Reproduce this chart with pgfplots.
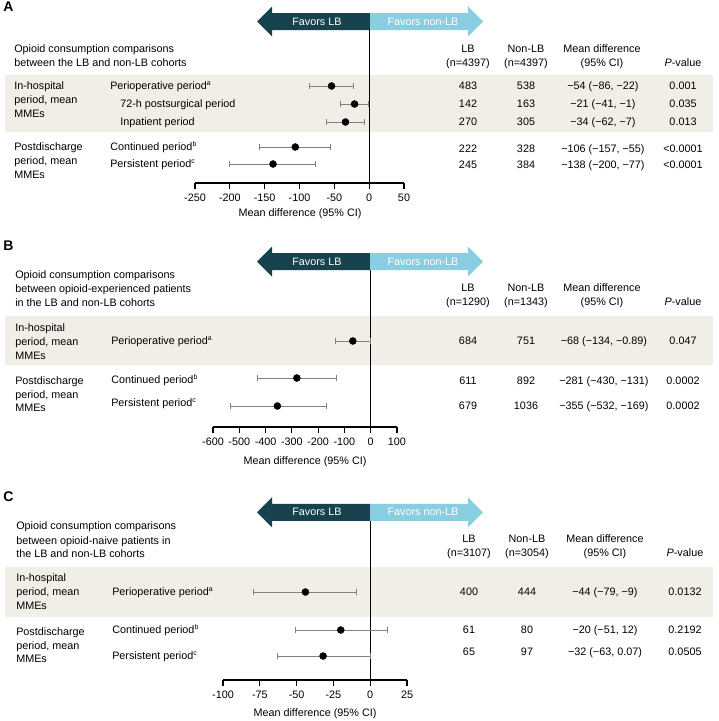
\documentclass[border=0pt]{standalone}
\usepackage{fontspec}
\setmainfont{Liberation Sans}
\usepackage{pgfplots}
\usepackage{pgfplotstable}
\pgfplotsset{compat=1.18}
\definecolor{darkteal}{RGB}{24,67,78}
\definecolor{lightblue}{RGB}{137,206,224}
\definecolor{band}{RGB}{240,238,230}
\definecolor{ebar}{RGB}{128,128,128}
\newcommand\mainsz{\fontsize{8.1pt}{10pt}\selectfont}
\newcommand\sups[1]{\raisebox{0.38em}{\fontsize{5.2pt}{6pt}\selectfont #1}}

\pgfplotstableread{
r m lo hi
86 -54 -86 -22
104 -21 -41 -1
122 -34 -62 -7
147 -106 -157 -55
164 -138 -200 -77
}\dataA
\pgfplotstableread{
r m lo hi
341 -68 -134 -0.89
378 -281 -430 -131
406 -355 -532 -169
}\dataB
\pgfplotstableread{
r m lo hi
592 -44 -79 -9
630 -20 -51 12
656 -32 -63 0.07
}\dataC

\pgfplotsset{forest/.style={
  scale only axis, clip=false,
  axis x line*=bottom, hide y axis,
  y dir=reverse,
  x axis line style={black, line width=0.8pt, -},
  tick align=outside, major tick length=4.5pt,
  xtick style={black, line width=0.8pt},
  minor tick num=0,
  xticklabel style={font=\mainsz, inner sep=0pt, yshift=-3.3pt},
}}
\pgfplotsset{fp/.style={only marks, mark=*, mark size=2.6pt, black,
  error bars/.cd, x dir=both, x explicit, error mark=|,
  error bar style={ebar, line width=0.7pt},
  error mark options={ebar, mark size=2.5pt, line width=0.7pt}}}

\begin{document}
\begin{tikzpicture}
\begin{scope}[x=0.75pt,y=-0.75pt,
  t/.style={font=\mainsz, inner sep=0pt, anchor=mid west},
  c/.style={font=\mainsz, inner sep=0pt, anchor=mid}]
\useasboundingbox (0,0) rectangle (718,721);
\fill[band] (5,75) rectangle (713,132);
\fill[band] (5,316) rectangle (713,365);
\fill[band] (5,567) rectangle (713,617);
\foreach \cy in {21.5, 261.7, 512.3} {
 \fill[darkteal] (257,\cy) -- (272,\cy-15) -- (272,\cy-8.5) -- (370,\cy-8.5) -- (370,\cy+8.5) -- (272,\cy+8.5) -- (272,\cy+15) -- cycle;
 \fill[lightblue] (370,\cy-8.5) -- (468,\cy-8.5) -- (468,\cy-15) -- (483,\cy) -- (468,\cy+15) -- (468,\cy+8.5) -- (370,\cy+8.5) -- cycle;
 \node[c, white] at (317,\cy) {Favors LB};
 \node[c, white] at (423,\cy) {Favors non-LB};
}
% panel letters
\node[inner sep=0pt, anchor=mid west, font=\fontsize{10.5pt}{12pt}\selectfont\bfseries] at (3,8) {A};
\node[inner sep=0pt, anchor=mid west, font=\fontsize{10.5pt}{12pt}\selectfont\bfseries] at (3,247) {B};
\node[inner sep=0pt, anchor=mid west, font=\fontsize{10.5pt}{12pt}\selectfont\bfseries] at (3,498) {C};
% ---------- Panel A text
\node[t] at (14,49) {Opioid consumption comparisons};
\node[t] at (14,63) {between the LB and non-LB cohorts};
\node[c] at (468,49) {LB}; \node[c] at (468,63) {(n=4397)};
\node[c] at (526,49) {Non-LB}; \node[c] at (526,63) {(n=4397)};
\node[c] at (602,49) {Mean difference}; \node[c] at (602,63) {(95\% CI)};
\node[c] at (683,63) {\textit{P}-value};
\node[t] at (14,86) {In-hospital}; \node[t] at (14,100) {period, mean}; \node[t] at (14,114) {MMEs};
\node[t] at (14,147) {Postdischarge}; \node[t] at (14,161) {period, mean}; \node[t] at (14,175) {MMEs};
\node[t] at (110,86) {Perioperative period\sups{a}};
\node[t] at (120,104) {72-h postsurgical period};
\node[t] at (120,122) {Inpatient period};
\node[t] at (110,147) {Continued period\sups{b}};
\node[t] at (110,164) {Persistent period\sups{c}};
\foreach \y/\a/\b/\d/\p in {86/483/538/{−54 (−86, −22)}/0.001, 104/142/163/{−21 (−41, −1)}/0.035, 122/270/305/{−34 (−62, −7)}/0.013, 149/222/328/{−106 (−157, −55)}/{<0.0001}, 165/245/384/{−138 (−200, −77)}/{<0.0001}} {
 \node[c] at (468,\y) {\a}; \node[c] at (526,\y) {\b}; \node[c] at (603,\y) {\d}; \node[c] at (683,\y) {\p};
}
\node[c] at (300,213) {Mean difference (95\% CI)};
% ---------- Panel B text
\node[t] at (15,275) {Opioid consumption comparisons};
\node[t] at (15,289) {between opioid-experienced patients};
\node[t] at (15,303) {in the LB and non-LB cohorts};
\node[c] at (468,288) {LB}; \node[c] at (468,302) {(n=1290)};
\node[c] at (526,288) {Non-LB}; \node[c] at (526,302) {(n=1343)};
\node[c] at (602,288) {Mean difference}; \node[c] at (602,302) {(95\% CI)};
\node[c] at (683,302) {\textit{P}-value};
\node[t] at (15,328) {In-hospital}; \node[t] at (15,342) {period, mean}; \node[t] at (15,356) {MMEs};
\node[t] at (15,381) {Postdischarge}; \node[t] at (15,395) {period, mean}; \node[t] at (15,408) {MMEs};
\node[t] at (111,341) {Perioperative period\sups{a}};
\node[t] at (111,380) {Continued period\sups{b}};
\node[t] at (111,403) {Persistent period\sups{c}};
\foreach \y/\a/\b/\d/\p in {341/684/751/{−68 (−134, −0.89)}/0.047, 381/611/892/{−281 (−430, −131)}/0.0002, 406/679/1036/{−355 (−532, −169)}/0.0002} {
 \node[c] at (468,\y) {\a}; \node[c] at (526,\y) {\b}; \node[c] at (604,\y) {\d}; \node[c] at (683,\y) {\p};
}
\node[c] at (305,461) {Mean difference (95\% CI)};
% ---------- Panel C text
\node[t] at (16,526) {Opioid consumption comparisons};
\node[t] at (16,541) {between opioid-naive patients in};
\node[t] at (16,554) {the LB and non-LB cohorts};
\node[c] at (469,539) {LB}; \node[c] at (469,553) {(n=3107)};
\node[c] at (527,539) {Non-LB}; \node[c] at (527,553) {(n=3054)};
\node[c] at (605,539) {Mean difference}; \node[c] at (605,553) {(95\% CI)};
\node[c] at (685,553) {\textit{P}-value};
\node[t] at (16,578) {In-hospital}; \node[t] at (16,592) {period, mean}; \node[t] at (16,606) {MMEs};
\node[t] at (16,632) {Postdischarge}; \node[t] at (16,646) {period, mean}; \node[t] at (16,659) {MMEs};
\node[t] at (112,592) {Perioperative period\sups{a}};
\node[t] at (112,630) {Continued period\sups{b}};
\node[t] at (112,656) {Persistent period\sups{c}};
\foreach \y/\a/\b/\d/\p in {592/400/444/{−44 (−79, −9)}/0.0132, 630/61/80/{−20 (−51, 12)}/0.2192, 652/65/97/{−32 (−63, 0.07)}/0.0505} {
 \node[c] at (469,\y) {\a}; \node[c] at (527,\y) {\b}; \node[c] at (605,\y) {\d}; \node[c] at (685,\y) {\p};
}
\node[c] at (315,713) {Mean difference (95\% CI)};
\end{scope}

% ---------- Axes
\begin{axis}[forest, at={(146.25pt,-137.25pt)}, anchor=south west,
  width=156.75pt, height=115.5pt, xmin=-250, xmax=50, ymin=29, ymax=183,
  xtick={-250,-200,-150,-100,-50,0,50},
  xticklabels={-250,-200,-150,-100,-50,0,50}]
\draw[black, line width=0.8pt] (axis cs:0,29) -- (axis cs:0,183);
\addplot[fp] table[x=m, y=r, x error plus expr=\thisrow{hi}-\thisrow{m}, x error minus expr=\thisrow{m}-\thisrow{lo}] {\dataA};
\end{axis}
\begin{axis}[forest, at={(159.75pt,-320.25pt)}, anchor=south west,
  width=138pt, height=117.6pt, xmin=-600, xmax=100, ymin=270.2, ymax=427,
  xtick={-600,-500,-400,-300,-200,-100,0,100},
  xticklabels={-600,-500,-400,-300,-200,-100,0,100}]
\draw[black, line width=0.8pt] (axis cs:0,270.2) -- (axis cs:0,427);
\addplot[fp] table[x=m, y=r, x error plus expr=\thisrow{hi}-\thisrow{m}, x error minus expr=\thisrow{m}-\thisrow{lo}] {\dataB};
\end{axis}
\begin{axis}[forest, at={(167.25pt,-510pt)}, anchor=south west,
  width=138pt, height=119.4pt, xmin=-100, xmax=25, ymin=520.8, ymax=680,
  xtick={-100,-75,-50,-25,0,25},
  xticklabels={-100,-75,-50,-25,0,25}]
\draw[black, line width=0.8pt] (axis cs:0,520.8) -- (axis cs:0,680);
\addplot[fp] table[x=m, y=r, x error plus expr=\thisrow{hi}-\thisrow{m}, x error minus expr=\thisrow{m}-\thisrow{lo}] {\dataC};
\end{axis}
\end{tikzpicture}
\end{document}
